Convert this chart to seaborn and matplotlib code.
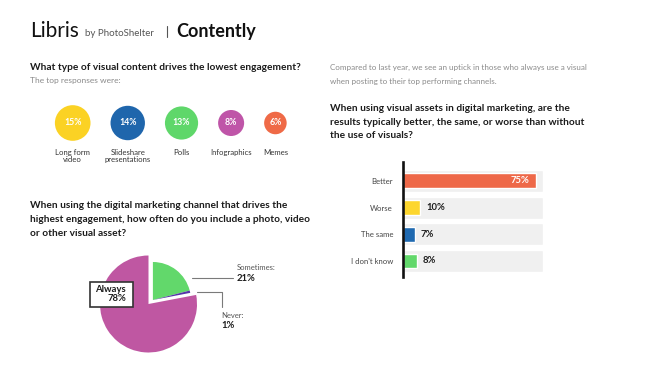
import matplotlib
matplotlib.use("Agg")
import matplotlib.pyplot as plt
import seaborn as sns
import numpy as np
import pandas as pd
from matplotlib.patches import Rectangle

# ---------------- data ----------------
circle_categories = ["Long form\nvideo", "Slideshare\npresentations", "Polls", "Infographics", "Memes"]
circle_values = [15, 14, 13, 8, 6]
circle_colors = ["#FBD224", "#1F66AC", "#5FD76A", "#BF55A8", "#EF6A47"]

pie_labels = ["Always", "Sometimes", "Never"]
pie_values = [78, 21, 1]
pie_colors = ["#BF57A2", "#62D86B", "#5536A8"]

bar_categories = ["Better", "Worse", "The same", "I don't know"]
bar_values = [75, 10, 7, 8]
bar_colors = ["#EE6848", "#FDD62E", "#1F69B0", "#62D86B"]

# ---------------- setup ----------------
W, H = 650, 369
sns.set_theme(style="white")
plt.rcParams["font.family"] = ["Lato", "DejaVu Sans"]

fig = plt.figure(figsize=(W / 100, H / 100), dpi=100)
fig.patch.set_facecolor("white")


def box(x0, y0, x1, y1):
    return [x0 / W, 1 - y1 / H, (x1 - x0) / W, (y1 - y0) / H]


ov = fig.add_axes([0, 0, 1, 1])
ov.set_xlim(0, W)
ov.set_ylim(H, 0)
ov.axis("off")
ov.patch.set_visible(False)
ov.set_zorder(5)

DARK = "#1c1c1c"
GRAY = "#8a8a8a"
TFS = 7.3

# ---------------- header ----------------
ov.text(30, 31, "Libris", fontsize=15, color="#111111", va="center")
ov.text(85, 33, "by PhotoShelter", fontsize=7, color="#555555", va="center")
ov.plot([166.7, 166.7], [26, 37], color="#555555", lw=0.8)
ov.text(176.7, 31, "Contently", fontsize=13, fontweight="bold", color="#111111", va="center")

# ---------------- titles ----------------
ov.text(30, 67, "What type of visual content drives the lowest engagement?",
        fontsize=TFS, fontweight="bold", color=DARK, va="center")
ov.text(30, 81, "The top responses were:", fontsize=6, color=GRAY, va="center")

ov.text(330, 67, "Compared to last year, we see an uptick in those who always use a visual",
        fontsize=5.8, color=GRAY, va="center")
ov.text(330, 81.5, "when posting to their top performing channels.",
        fontsize=5.8, color=GRAY, va="center")

for y, line in zip([108.3, 122.3, 136],
                   ["When using visual assets in digital marketing, are the",
                    "results typically better, the same, or worse than without",
                    "the use of visuals?"]):
    ov.text(330, y, line, fontsize=TFS, fontweight="bold", color=DARK, va="center")

for y, line in zip([205, 219.3, 233.3],
                   ["When using the digital marketing channel that drives the",
                    "highest engagement, how often do you include a photo, video",
                    "or other visual asset?"]):
    ov.text(30, y, line, fontsize=TFS, fontweight="bold", color=DARK, va="center")

# ---------------- bubbles ----------------
K = 4.6          # pixel radius per sqrt(value)
GAP = 20         # pixel gap between bubbles
radii = K * np.sqrt(np.array(circle_values, dtype=float))
xs = [72.7]
for i in range(1, len(radii)):
    xs.append(xs[-1] + radii[i - 1] + radii[i] + GAP)
xs = np.array(xs)

ax_c = fig.add_axes(box(30, 100, 300, 146))
a = (2 * K * 0.72) ** 2
cdf = pd.DataFrame({"x": xs, "y": np.zeros(len(xs)), "cat": circle_categories, "v": circle_values})
sns.scatterplot(data=cdf, x="x", y="y", hue="cat", palette=circle_colors,
                size="v", sizes=(a * min(circle_values), a * max(circle_values)),
                linewidth=0, legend=False, ax=ax_c)
ax_c.set_xlim(30, 300)
ax_c.set_ylim(-23, 23)
ax_c.axis("off")
ax_c.patch.set_visible(False)
for x, v in zip(xs, circle_values):
    ax_c.text(x, 0, f"{v}%", color="white", fontsize=6.3, fontweight="bold", ha="center", va="center")
for x, lab in zip(xs, circle_categories):
    ov.text(x, 149, lab, fontsize=5.6, color="#333333", ha="center", va="top", linespacing=1.05)

# ---------------- pie ----------------
ax_p = fig.add_axes(box(80, 240, 220, 360))
ax_p.pie([pie_values[0], sum(pie_values[1:])], colors=[pie_colors[0], "none"],
         startangle=90, counterclock=True, radius=48.5, center=(148.5, 65),
         wedgeprops=dict(linewidth=0))
ax_p.pie([pie_values[1], pie_values[2], pie_values[0]], colors=[pie_colors[1], pie_colors[2], "none"],
         startangle=90, counterclock=False, radius=38, center=(152.9, 69),
         wedgeprops=dict(linewidth=0))
ax_p.set_xlim(80, 220)
ax_p.set_ylim(9, 129)
ax_p.set_aspect("equal")
ax_p.axis("off")

# annotations
ov.plot([192, 233], [278, 278], color="#7a7a7a", lw=0.8)
ov.plot([197, 222, 222], [292, 292, 307], color="#7a7a7a", lw=0.8)
ov.text(237, 268, f"{pie_labels[1]}:", fontsize=5.5, color="#555555", va="center")
ov.text(237, 278.5, f"{pie_values[1]}%", fontsize=6.8, fontweight="bold", color=DARK, va="center")
ov.text(221, 316, f"{pie_labels[2]}:", fontsize=5.5, color="#555555", va="center")
ov.text(221, 326, f"{pie_values[2]}%", fontsize=6.8, fontweight="bold", color=DARK, va="center")
ov.add_patch(Rectangle((90, 282), 43, 25, facecolor="white", edgecolor="#333333", lw=1.2))
ov.text(126, 289.5, pie_labels[0], fontsize=6.8, fontweight="bold", color=DARK, ha="right", va="center")
ov.text(126, 298.5, f"{pie_values[0]}%", fontsize=6.8, fontweight="bold", color=DARK, ha="right", va="center")

# ---------------- bars ----------------
XMAX = 79
ax_b = fig.add_axes(box(402.5, 162, 543, 277))
sns.barplot(x=[XMAX] * len(bar_categories), y=bar_categories, color="#F0F0F0",
            width=0.82, orient="h", ax=ax_b, saturation=1)
sns.barplot(x=bar_values, y=bar_categories, hue=bar_categories, palette=bar_colors,
            width=0.56, orient="h", ax=ax_b, saturation=1, legend=False)
ax_b.set_xlim(0, XMAX)
ax_b.set_ylim(3.6, -0.71)
ax_b.set_xticks([])
ax_b.set_xlabel("")
ax_b.set_ylabel("")
for s in ["top", "right", "bottom"]:
    ax_b.spines[s].set_visible(False)
ax_b.spines["left"].set_color("#111111")
ax_b.spines["left"].set_linewidth(1.9)
ax_b.tick_params(axis="y", length=0, pad=6.8, labelsize=5.6, labelcolor="#444444")
ax_b.patch.set_visible(False)
for i, v in enumerate(bar_values):
    if v > 40:
        ax_b.text(v - 3.5, i, f"{v}%", color="white", fontsize=6.8, fontweight="bold",
                  ha="right", va="center")
    else:
        ax_b.text(v + 3.2, i, f"{v}%", color=DARK, fontsize=6.8, fontweight="bold",
                  ha="left", va="center")

fig.savefig("out.png", dpi=100, facecolor="white")
